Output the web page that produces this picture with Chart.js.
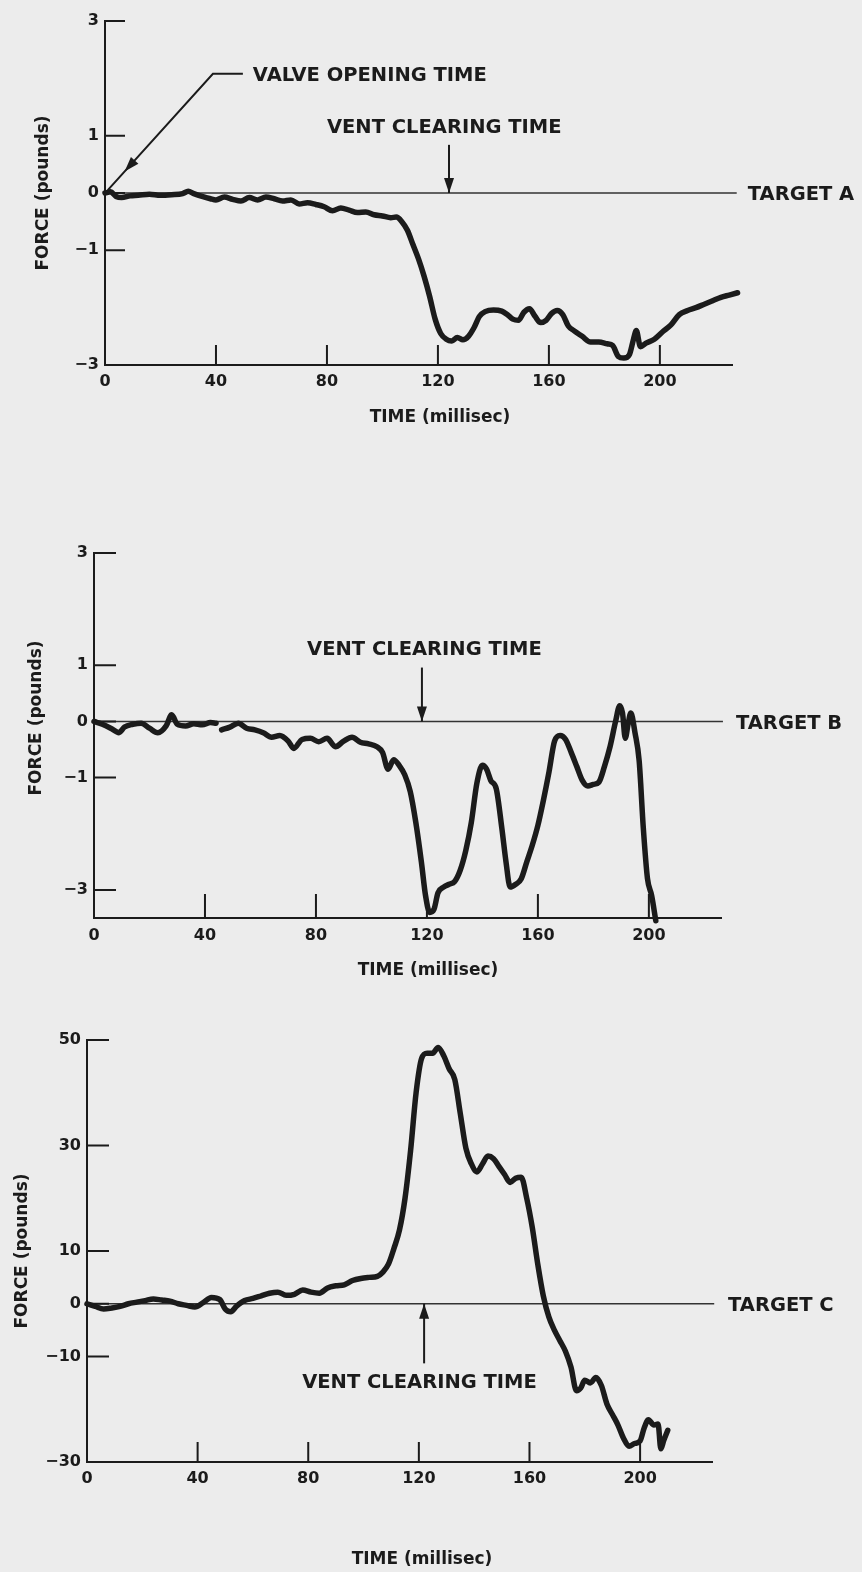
<!DOCTYPE html>
<html>
<head>
<meta charset="utf-8">
<title>Target force traces</title>
<script src="https://cdn.jsdelivr.net/npm/chart.js@4.4.1/dist/chart.umd.min.js"></script>
<style>
  html, body { margin: 0; padding: 0; background: #ececec; }
  body { width: 862px; height: 1572px; position: relative; overflow: hidden; }
  canvas { position: absolute; left: 0; }
</style>
</head>
<body>
<canvas id="chartA" width="862" height="440" style="top:0px"></canvas>
<canvas id="chartB" width="862" height="560" style="top:440px"></canvas>
<canvas id="chartC" width="862" height="572" style="top:1000px"></canvas>
<script>
// tick labels
const timeTicks = [0, 40, 80, 120, 160, 200];
const forceTicksAB = [-3, -1, 0, 1, 3];
const forceTicksC = [-30, -10, 0, 10, 30, 50];

// Target A
const timeA = [0, 2, 4, 6, 9, 12, 16, 20, 24, 28, 30, 32, 35, 38, 40, 43, 46, 49, 52, 55,
  58, 61, 64, 67, 70, 73, 76, 79, 82, 85, 88, 91, 94, 97, 100, 103, 105, 107, 109, 111,
  113, 115, 117, 119, 121, 123, 125, 127, 129, 131, 133, 135, 137, 140, 143, 145, 147, 149, 151, 153,
  155, 157, 159, 161, 163, 165, 167, 169, 172, 175, 178, 181, 183, 185, 187, 189, 190.5, 191.5, 193, 195,
  198, 201, 204, 207, 210, 213, 216, 219, 222, 225, 228];
const forceA = [0, 0.02, -0.06, -0.08, -0.05, -0.04, -0.02, -0.04, -0.03, -0.01, 0.03, -0.01, -0.06, -0.1, -0.12, -0.07, -0.11, -0.14, -0.08, -0.12,
  -0.07, -0.1, -0.14, -0.12, -0.19, -0.17, -0.2, -0.24, -0.31, -0.26, -0.3, -0.34, -0.33, -0.38, -0.4, -0.43, -0.42, -0.5, -0.65, -0.9,
  -1.15, -1.45, -1.8, -2.2, -2.45, -2.55, -2.58, -2.52, -2.56, -2.5, -2.35, -2.15, -2.07, -2.04, -2.06, -2.12, -2.2, -2.22, -2.08, -2.02,
  -2.15, -2.26, -2.22, -2.1, -2.05, -2.12, -2.32, -2.4, -2.5, -2.6, -2.6, -2.63, -2.66, -2.85, -2.88, -2.82, -2.55, -2.4, -2.68, -2.62,
  -2.55, -2.42, -2.3, -2.12, -2.05, -2.0, -1.94, -1.88, -1.82, -1.78, -1.74];

// Target B (null = break in the trace)
const timeB = [0, 3, 6, 9, 11, 14, 17, 20, 23, 26, 28, 30, 33, 36, 39, 42, 44, 45, 46, 49,
  52, 55, 58, 61, 64, 67, 70, 72, 75, 78, 81, 84, 87, 90, 93, 96, 99, 102, 104, 106,
  108, 110, 112, 114, 116, 118, 119.5, 121, 122.5, 124, 126, 128, 130, 132, 134, 136, 138, 140, 141.5, 143,
  145, 147, 148.5, 150, 152, 154, 156, 158, 160, 162, 164, 166, 168, 170, 172, 174, 176, 178, 180, 182,
  184, 186, 188, 189.5, 190.5, 191.5, 192.5, 193.5, 195, 196.5, 198, 199.5, 201, 202.5];
const forceB = [0, -0.05, -0.12, -0.2, -0.1, -0.05, -0.03, -0.12, -0.2, -0.08, 0.12, -0.05, -0.08, -0.04, -0.06, -0.02, -0.03, null, -0.15, -0.1,
  -0.03, -0.12, -0.15, -0.2, -0.28, -0.25, -0.35, -0.48, -0.32, -0.3, -0.36, -0.3, -0.45, -0.35, -0.28, -0.37, -0.4, -0.45, -0.55, -0.85,
  -0.68, -0.78, -0.95, -1.25, -1.8, -2.5, -3.1, -3.4, -3.35, -3.05, -2.95, -2.9, -2.85, -2.65, -2.3, -1.8, -1.1, -0.78, -0.85, -1.05,
  -1.2, -1.9, -2.5, -2.95, -2.9, -2.8, -2.5, -2.2, -1.85, -1.4, -0.9, -0.35, -0.25, -0.32, -0.55, -0.8, -1.05, -1.15, -1.12, -1.08,
  -0.8, -0.45, 0.0, 0.28, 0.15, -0.3, -0.05, 0.15, -0.2, -0.7, -1.9, -2.8, -3.1, -3.55];

// Target C
const timeC = [0, 3, 6, 9, 12, 15, 18, 21, 24, 27, 30, 33, 36, 39, 42, 45, 48, 50, 52, 54,
  57, 60, 63, 66, 69, 72, 75, 78, 81, 84, 87, 90, 93, 96, 99, 102, 105, 107, 109, 111,
  113, 115, 117, 119, 121, 123, 125, 127, 129, 131, 133, 135, 137, 139, 141, 143, 145, 147, 149, 151,
  153, 155, 157, 159, 161, 163, 165, 167, 169, 171, 173, 175, 177, 178.5, 180, 182, 184, 186, 188, 190,
  192, 194, 196, 198, 200, 201.5, 203, 205, 206.5, 207.5, 208.5, 210];
const forceC = [0, -0.5, -1, -0.8, -0.5, 0, 0.3, 0.6, 0.9, 0.7, 0.5, 0, -0.3, -0.6, 0.2, 1.2, 0.8, -1.0, -1.5, -0.5,
  0.6, 1.0, 1.5, 2.0, 2.2, 1.6, 1.8, 2.6, 2.2, 2.0, 3.0, 3.4, 3.6, 4.4, 4.8, 5.0, 5.2, 6.0, 7.5, 10.5,
  14, 20, 29, 40, 46.5, 47.5, 47.5, 48.6, 47, 44.5, 42.5, 36, 29.5, 26.5, 25, 26.5, 28, 27.5, 26, 24.5,
  23, 23.8, 24, 20, 14.5, 7.5, 1.5, -2.5, -5, -7, -9, -12, -16.5, -16, -14.5, -15, -14, -15.5, -19, -21,
  -23, -25.5, -27, -26.5, -26, -23.5, -22, -23, -22.8, -27.5, -26, -24];

const INK = '#1b1b1b';
const FONT = 'DejaVu Sans';
Chart.defaults.font.family = FONT;
Chart.defaults.color = INK;

// inward tick marks, axis titles, labels and arrows
const decor = {
  id: 'decor',
  afterDraw(chart, args, o) {
    const { ctx, chartArea: a, scales: { x, y } } = chart;
    const px = v => x.getPixelForValue(v);
    const py = v => y.getPixelForValue(v);
    ctx.save();
    ctx.strokeStyle = INK;
    ctx.fillStyle = INK;
    ctx.lineWidth = 2;

    ctx.beginPath();
    y.ticks.forEach(t => {
      const yy = py(t.value);
      ctx.moveTo(a.left, yy);
      ctx.lineTo(a.left + o.yTickLen, yy);
    });
    x.ticks.forEach(t => {
      if (t.value === 0) return;
      const xx = px(t.value);
      ctx.moveTo(xx, a.bottom);
      ctx.lineTo(xx, a.bottom - o.xTickLen);
    });
    ctx.stroke();

    ctx.font = `bold 17px ${FONT}`;
    ctx.textAlign = 'center';
    ctx.textBaseline = 'middle';
    ctx.fillText('TIME (millisec)', o.xTitle[0], o.xTitle[1]);
    ctx.save();
    ctx.translate(o.yTitle[0], o.yTitle[1]);
    ctx.rotate(-Math.PI / 2);
    ctx.fillText('FORCE (pounds)', 0, 0);
    ctx.restore();

    ctx.font = `bold 19.5px ${FONT}`;
    ctx.textAlign = 'left';
    ctx.fillText(o.target.text, px(o.target.at[0]), py(o.target.at[1]));
    o.notes.forEach(n => ctx.fillText(n.text, px(n.at[0]), py(n.at[1])));

    o.arrows.forEach(ar => {
      const pts = ar.path.map(p => [px(p[0]), py(p[1])]);
      ctx.lineWidth = 2;
      ctx.beginPath();
      pts.forEach((p, i) => i ? ctx.lineTo(p[0], p[1]) : ctx.moveTo(p[0], p[1]));
      ctx.stroke();
      const [x1, y1] = pts[pts.length - 2];
      const [x2, y2] = pts[pts.length - 1];
      const f = ar.headAt || 1;
      const tx = x1 + (x2 - x1) * f, ty = y1 + (y2 - y1) * f;
      const len = Math.hypot(x2 - x1, y2 - y1);
      const ux = (x2 - x1) / len, uy = (y2 - y1) / len;
      const hl = 15, hw = 5;
      ctx.beginPath();
      ctx.moveTo(tx, ty);
      ctx.lineTo(tx - ux * hl - uy * hw, ty - uy * hl + ux * hw);
      ctx.lineTo(tx - ux * hl + uy * hw, ty - uy * hl - ux * hw);
      ctx.closePath();
      ctx.fill();
    });
    ctx.restore();
  }
};

function makeChart(id, c) {
  return new Chart(document.getElementById(id), {
    type: 'line',
    data: {
      datasets: [
        {
          data: c.time.map((t, i) => ({ x: t, y: c.force[i] })),
          borderColor: INK,
          borderWidth: 5.5,
          pointRadius: 0,
          cubicInterpolationMode: 'monotone',
          borderJoinStyle: 'round',
          borderCapStyle: 'round',
          spanGaps: false,
          clip: false
        },
        {
          // target reference line at zero force
          data: [{ x: 0, y: 0 }, { x: c.targetEnd, y: 0 }],
          borderColor: '#333',
          borderWidth: 1.5,
          pointRadius: 0,
          clip: false
        }
      ]
    },
    options: {
      responsive: false,
      animation: false,
      devicePixelRatio: 1,
      layout: { padding: { top: c.top, right: c.right, left: 0, bottom: 0 } },
      plugins: { legend: { display: false }, tooltip: { enabled: false }, decor: c.decor },
      scales: {
        x: {
          type: 'linear', min: 0, max: 226,
          grid: { display: false, drawTicks: false },
          border: { display: true, color: INK, width: 2 },
          ticks: { font: { size: 16, weight: 'bold' }, padding: c.xPad, maxRotation: 0, autoSkip: false },
          afterBuildTicks: s => { s.ticks = timeTicks.map(v => ({ value: v })); },
          afterFit: s => { s.height = c.xh; }
        },
        y: {
          type: 'linear', min: c.yMin, max: c.yMax,
          grid: { display: false, drawTicks: false },
          border: { display: true, color: INK, width: 2 },
          ticks: {
            font: { size: 16, weight: 'bold' }, padding: 6,
            callback: v => v < 0 ? '\u2212' + Math.abs(v) : String(v)
          },
          afterBuildTicks: s => { s.ticks = c.yTicks.map(v => ({ value: v })); },
          afterFit: s => { s.width = c.yw; }
        }
      }
    },
    plugins: [decor]
  });
}

makeChart('chartA', {
  time: timeA, force: forceA, yMin: -3, yMax: 3, yTicks: forceTicksAB,
  top: 21, right: 130, yw: 105, xh: 75, xPad: 7, targetEnd: 227.7,
  decor: {
    yTickLen: 20, xTickLen: 20, xTitle: [440, 418], yTitle: [44, 193],
    target: { text: 'TARGET A', at: [231.7, -0.04] },
    notes: [
      { text: 'VALVE OPENING TIME', at: [53.3, 2.04] },
      { text: 'VENT CLEARING TIME', at: [80, 1.13] }
    ],
    arrows: [
      { path: [[49.7, 2.08], [38.9, 2.08], [1, 0.05]], headAt: 0.84 },
      { path: [[124, 0.84], [124, 0]] }
    ]
  }
});

makeChart('chartB', {
  time: timeB, force: forceB, yMin: -3.5, yMax: 3, yTicks: forceTicksAB,
  top: 113, right: 141, yw: 94, xh: 82, xPad: 8, targetEnd: 226.7,
  decor: {
    yTickLen: 22, xTickLen: 24, xTitle: [428, 531], yTitle: [37, 278],
    target: { text: 'TARGET B', at: [231.4, -0.04] },
    notes: [{ text: 'VENT CLEARING TIME', at: [76.8, 1.28] }],
    arrows: [{ path: [[118.2, 0.96], [118.2, 0]] }]
  }
});

makeChart('chartC', {
  time: timeC, force: forceC, yMin: -30, yMax: 50, yTicks: forceTicksC,
  top: 40, right: 150, yw: 87, xh: 110, xPad: 7, targetEnd: 226.8,
  decor: {
    yTickLen: 22, xTickLen: 20, xTitle: [422, 560], yTitle: [23, 251],
    target: { text: 'TARGET C', at: [231.8, -0.4] },
    notes: [{ text: 'VENT CLEARING TIME', at: [77.8, -15.0] }],
    arrows: [{ path: [[121.9, -11.3], [121.9, 0]] }]
  }
});
</script>
</body>
</html>
